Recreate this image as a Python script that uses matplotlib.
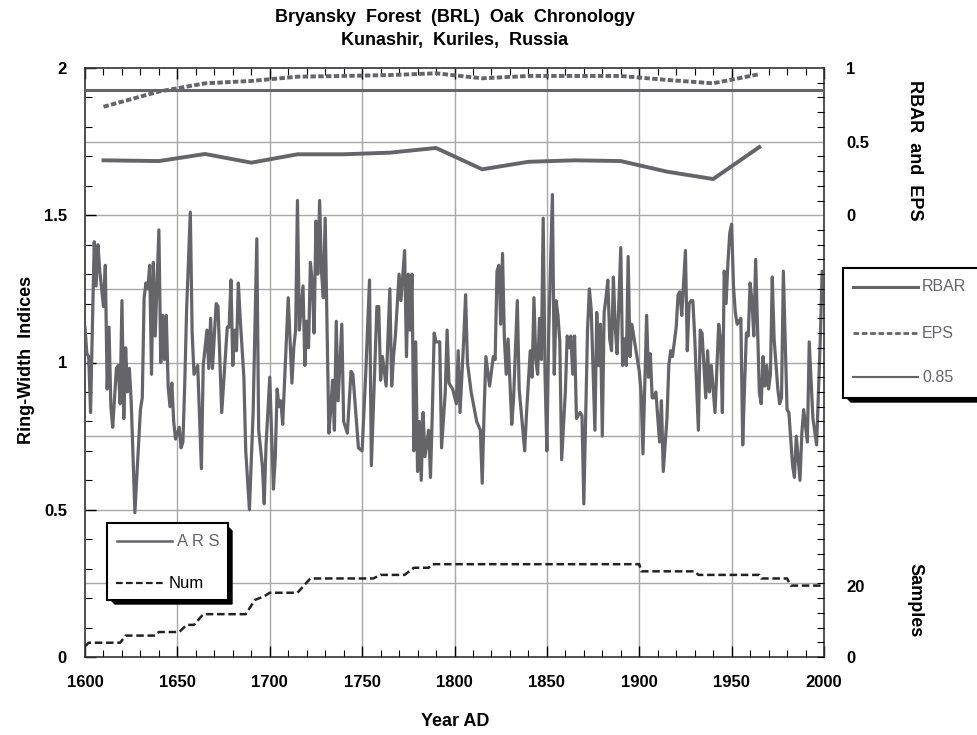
import numpy as np
import matplotlib.pyplot as plt
from matplotlib.patches import Rectangle, Polygon
from matplotlib.lines import Line2D

plt.rcParams['font.family'] = ['Liberation Sans Narrow', 'Liberation Sans', 'DejaVu Sans']

# ARS chronology (year, index)
ars_years = [1600, 1601, 1602, 1603, 1605, 1606, 1607, 1608, 1610, 1611, 1612, 1613, 1614, 1615, 1617, 1618,
             1619, 1620, 1621, 1622, 1623, 1624, 1625, 1627, 1630, 1631, 1632, 1633, 1634, 1635, 1636, 1637,
             1638, 1640, 1641, 1642, 1643, 1644, 1645, 1646, 1647, 1648, 1649, 1651, 1652, 1653, 1654, 1655,
             1657, 1658, 1659, 1661, 1663, 1664, 1666, 1667, 1668, 1669, 1671, 1672, 1674, 1677, 1678, 1679,
             1680, 1681, 1682, 1683, 1684, 1686, 1687, 1689, 1690, 1691, 1693, 1694, 1696, 1697, 1698, 1700,
             1702, 1703, 1704, 1705, 1706, 1707, 1710, 1712, 1713, 1714, 1715, 1716, 1718, 1719, 1720, 1721,
             1722, 1723, 1724, 1725, 1726, 1727, 1728, 1729, 1730, 1731, 1732, 1733, 1734, 1735, 1736, 1737,
             1739, 1740, 1742, 1744, 1745, 1748, 1750, 1752, 1754, 1755, 1758, 1759, 1760, 1761, 1763, 1765,
             1766, 1767, 1768, 1770, 1771, 1773, 1774, 1775, 1776, 1777, 1778, 1779, 1780, 1781, 1782, 1783,
             1784, 1786, 1787, 1788, 1789, 1790, 1792, 1793, 1795, 1796, 1797, 1799, 1801, 1802, 1803, 1805,
             1806, 1807, 1809, 1812, 1814, 1815, 1816, 1817, 1819, 1821, 1822, 1823, 1824, 1825, 1826, 1827,
             1828, 1829, 1831, 1832, 1834, 1835, 1838, 1839, 1841, 1842, 1843, 1844, 1845, 1846, 1847, 1848,
             1849, 1850, 1851, 1853, 1854, 1855, 1856, 1857, 1858, 1860, 1861, 1862, 1863, 1864, 1865, 1866,
             1868, 1869, 1870, 1872, 1873, 1874, 1875, 1876, 1877, 1878, 1879, 1880, 1881, 1882, 1883, 1884,
             1885, 1886, 1887, 1888, 1890, 1891, 1892, 1893, 1894, 1895, 1896, 1898, 1900, 1901, 1902, 1904,
             1905, 1906, 1907, 1908, 1909, 1911, 1912, 1913, 1915, 1916, 1917, 1918, 1920, 1921, 1922, 1923,
             1925, 1926, 1927, 1928, 1929, 1930, 1932, 1933, 1934, 1936, 1937, 1938, 1939, 1941, 1943, 1944,
             1945, 1946, 1947, 1948, 1949, 1950, 1951, 1952, 1953, 1955, 1956, 1957, 1958, 1959, 1960, 1961,
             1962, 1963, 1965, 1966, 1967, 1968, 1969, 1970, 1971, 1972, 1973, 1975, 1976, 1977, 1978, 1980,
             1981, 1983, 1984, 1985, 1987, 1988, 1989, 1991, 1992, 1994, 1996, 1998, 1999, 2000]
ars_values = [1.12, 1.03, 1.02, 0.83, 1.41, 1.26, 1.40, 1.31, 1.19, 1.33, 0.91, 1.12, 0.85, 0.78, 0.98, 0.99,
              0.86, 1.21, 0.81, 1.05, 0.90, 0.98, 0.87, 0.49, 0.84, 0.88, 1.22, 1.27, 1.25, 1.33, 0.96, 1.34,
              1.09, 1.45, 1.00, 1.16, 1.01, 1.16, 0.92, 0.85, 0.93, 0.80, 0.74, 0.78, 0.71, 0.73, 0.93, 1.18,
              1.51, 1.10, 0.96, 0.99, 0.64, 0.99, 1.11, 0.98, 1.15, 0.98, 1.20, 1.19, 0.83, 1.12, 1.12, 1.28,
              0.99, 1.11, 1.04, 1.27, 1.15, 0.95, 0.70, 0.50, 0.67, 0.83, 1.42, 0.77, 0.65, 0.52, 0.72, 0.95,
              0.57, 0.68, 0.91, 0.85, 0.87, 0.79, 1.22, 0.93, 1.05, 1.11, 1.55, 1.11, 1.26, 0.99, 1.14, 1.05,
              1.34, 1.27, 1.10, 1.48, 1.30, 1.55, 1.31, 1.22, 1.49, 1.12, 0.76, 0.84, 0.94, 0.77, 1.14, 0.87,
              1.13, 0.80, 0.76, 0.97, 0.96, 0.71, 0.70, 0.97, 1.28, 0.65, 1.19, 1.19, 0.94, 1.02, 0.92, 1.25,
              0.92, 1.02, 1.09, 1.30, 1.21, 1.38, 1.02, 1.30, 1.11, 1.30, 0.70, 1.07, 0.63, 0.80, 0.60, 0.83,
              0.68, 0.77, 0.61, 0.83, 1.10, 1.07, 1.07, 0.71, 0.90, 1.11, 0.93, 0.91, 0.86, 1.04, 0.83, 1.08,
              1.23, 1.00, 0.90, 0.80, 0.77, 0.59, 0.83, 1.02, 0.92, 1.02, 1.01, 1.31, 1.33, 1.13, 1.37, 1.08,
              0.96, 1.08, 0.79, 0.88, 1.21, 0.91, 0.70, 0.83, 1.04, 0.95, 1.22, 1.01, 0.96, 1.15, 1.01, 1.49,
              0.96, 0.70, 1.10, 1.57, 0.96, 1.21, 1.16, 1.07, 0.67, 0.90, 1.09, 1.05, 1.09, 0.96, 1.09, 0.81,
              0.83, 0.82, 0.52, 1.11, 1.25, 1.18, 0.98, 0.77, 1.17, 0.99, 1.13, 0.75, 1.17, 1.22, 1.28, 1.08,
              1.04, 1.29, 1.12, 1.03, 1.39, 0.99, 1.08, 0.99, 1.36, 1.02, 1.13, 1.05, 0.97, 0.90, 0.69, 1.16,
              0.95, 1.03, 0.88, 0.88, 0.90, 0.73, 0.87, 0.63, 0.81, 0.99, 1.04, 1.02, 1.12, 1.23, 1.24, 1.16,
              1.38, 1.04, 1.20, 1.21, 1.21, 1.09, 0.77, 1.11, 1.10, 0.88, 1.04, 0.90, 0.99, 0.83, 1.13, 1.08,
              0.83, 1.31, 1.20, 1.34, 1.44, 1.47, 1.26, 1.17, 1.13, 1.15, 0.72, 0.92, 1.10, 1.09, 1.27, 1.21,
              1.09, 1.35, 0.90, 0.86, 1.02, 0.92, 0.99, 0.91, 0.96, 1.29, 1.08, 0.91, 0.86, 0.88, 1.31, 0.84,
              0.83, 0.65, 0.61, 0.75, 0.60, 0.76, 0.84, 0.73, 1.07, 0.81, 0.72, 1.08, 1.31, 1.30]

# running RBAR / EPS statistics
stat_years = [1610, 1640, 1665, 1690, 1715, 1740, 1765, 1790, 1815, 1840, 1865, 1890, 1915, 1940, 1965]
rbar = [0.373, 0.368, 0.416, 0.357, 0.414, 0.414, 0.425, 0.457, 0.312, 0.363, 0.373, 0.368, 0.296, 0.246, 0.463]
eps = [0.737, 0.84, 0.896, 0.912, 0.941, 0.946, 0.952, 0.964, 0.930, 0.946, 0.946, 0.946, 0.919, 0.896, 0.958]
eps_threshold = 0.85

# sample depth
num_years = [1600, 1602, 1619, 1622, 1638, 1640, 1651, 1655, 1659, 1664, 1687, 1692, 1697, 1700, 1715, 1722,
             1756, 1760, 1773, 1778, 1786, 1788, 1900, 1901, 1930, 1932, 1965, 1966, 1980, 1982, 2000]
num_counts = [3, 4, 4, 6, 6, 7, 7, 9, 9, 12, 12, 16, 17, 18, 18, 22, 22, 23, 23, 25, 25, 26, 26, 24, 24, 23,
              23, 22, 22, 20, 20]

gray = '#646469'
W, H = 977, 735

fig = plt.figure(figsize=(W / 100, H / 100), dpi=100)
ax = fig.add_axes([85 / W, 78 / H, 739 / W, 589 / H])

for g in [0.25, 0.5, 0.75, 1.0, 1.25, 1.5, 1.75]:
    ax.axhline(g, color='#a8a8a8', lw=1.0, zorder=0)
for g in range(1650, 2000, 50):
    ax.axvline(g, color='#a8a8a8', lw=1.0, zorder=0)

ax.plot(ars_years, ars_values, color=gray, lw=2.3, zorder=3)
ax.set_xlim(1600, 2000)
ax.set_ylim(0, 2)
ax.set_xticks(range(1600, 2001, 50))
ax.set_xticks(range(1600, 2001, 10), minor=True)
ax.set_yticks([0, 0.5, 1, 1.5, 2])
ax.set_yticklabels(['0', '0.5', '1', '1.5', '2'])
ax.set_yticks(np.arange(0, 2.01, 0.1), minor=True)
ax.tick_params(axis='x', which='both', direction='in', top=True, pad=13, labelsize=12)
ax.tick_params(axis='y', which='both', direction='in', right=False, pad=13, labelsize=12)
ax.tick_params(which='major', length=8, width=1)
ax.tick_params(which='minor', length=5, width=0.8)
for lab in ax.get_xticklabels() + ax.get_yticklabels():
    lab.set_fontweight('bold')
for s in ax.spines.values():
    s.set_color('#333333')
    s.set_linewidth(1.2)

ax2 = ax.twinx()
ax2.set_ylim(-3, 1)
ax2.plot(stat_years, rbar, color=gray, lw=2.8, zorder=3)
ax2.plot(stat_years, eps, color=gray, lw=2.8, ls=(0, (1.4, 0.6)), zorder=3)
ax2.axhline(eps_threshold, color=gray, lw=2.2)
ax2.set_yticks([0, 0.5, 1])
ax2.set_yticklabels(['0', '0.5', '1'])
ax2.set_yticks(np.arange(-3, 1.01, 0.1), minor=True)
ax2.tick_params(axis='y', which='both', direction='in', pad=16, labelsize=12)
ax2.tick_params(which='major', length=0)
ax2.tick_params(which='minor', length=5, width=0.8)
for lab in ax2.get_yticklabels():
    lab.set_fontweight('bold')
    lab.set_horizontalalignment('left')

ax3 = ax.twinx()
ax3.set_ylim(0, 165)
ax3.plot(num_years, num_counts, color='#222222', lw=1.8, ls=(0, (3, 1.5)), zorder=3)
ax3.set_yticks([0, 20])
ax3.tick_params(axis='y', length=0, pad=16, labelsize=12)
for lab in ax3.get_yticklabels():
    lab.set_fontweight('bold')
for a in (ax2, ax3):
    a.spines[:].set_visible(False)

fig.text(455 / W, 1 - 18 / H, 'Bryansky  Forest  (BRL)  Oak  Chronology', ha='center', va='center',
         fontsize=13, fontweight='bold')
fig.text(455 / W, 1 - 40 / H, 'Kunashir,  Kuriles,  Russia', ha='center', va='center',
         fontsize=13, fontweight='bold')
fig.text(455 / W, 1 - 722 / H, 'Year AD', ha='center', va='center', fontsize=13, fontweight='bold')
fig.text(27 / W, 1 - 360 / H, 'Ring-Width  Indices', ha='center', va='center', rotation=90,
         fontsize=13, fontweight='bold')
fig.text(915 / W, 1 - 150 / H, 'RBAR  and  EPS', ha='center', va='center', rotation=-90,
         fontsize=13, fontweight='bold')
fig.text(915 / W, 1 - 600 / H, 'Samples', ha='center', va='center', rotation=-90,
         fontsize=13, fontweight='bold')


def px(x, y):
    return (x / W, 1 - y / H)


def box(x0, y0, x1, y1, d):
    shadow = Polygon([px(x0 + d, y1), px(x1, y1), px(x1, y0 + d), px(x1 + d, y0 + 2 * d),
                      px(x1 + d, y1 + d), px(x0 + 2 * d, y1 + d)], closed=True,
                     transform=fig.transFigure, facecolor='black', edgecolor='black', zorder=5)
    frame = Rectangle(px(x0, y1), (x1 - x0) / W, (y1 - y0) / H, transform=fig.transFigure,
                      facecolor='white', edgecolor='black', lw=1.5, zorder=6)
    fig.add_artist(shadow)
    fig.add_artist(frame)


def entry(x0, x1, y, label, color, ls, lw, tcolor, family, tx, size=12):
    fig.add_artist(Line2D([x0 / W, x1 / W], [1 - y / H, 1 - y / H], transform=fig.transFigure,
                          color=color, ls=ls, lw=lw, zorder=7))
    fig.text(tx / W, 1 - y / H, label, ha='left', va='center', fontsize=size, color=tcolor,
             family=family, zorder=7)


# ARS / Num legend
box(107, 523, 228, 600, 4)
entry(117, 172, 541, 'A R S', gray, '-', 1.8, gray, ['Liberation Sans', 'DejaVu Sans'], 177)
entry(116, 164, 583, 'Num', '#222222', (0, (3, 1.5)), 1.6, 'black',
      ['Liberation Sans Narrow', 'Liberation Sans', 'DejaVu Sans'], 169)

# RBAR / EPS legend
box(843, 268, 990, 398, 4)
entry(853, 918, 287, 'RBAR', gray, '-', 2.2, gray, ['Liberation Sans', 'DejaVu Sans'], 922, 11.5)
entry(853, 918, 333, 'EPS', gray, (0, (2, 1)), 2.0, gray, ['Liberation Sans', 'DejaVu Sans'], 922, 11.5)
entry(853, 918, 377, '0.85', gray, '-', 1.5, gray, ['Liberation Sans', 'DejaVu Sans'], 922, 11.5)

fig.savefig('out.png', dpi=100)
